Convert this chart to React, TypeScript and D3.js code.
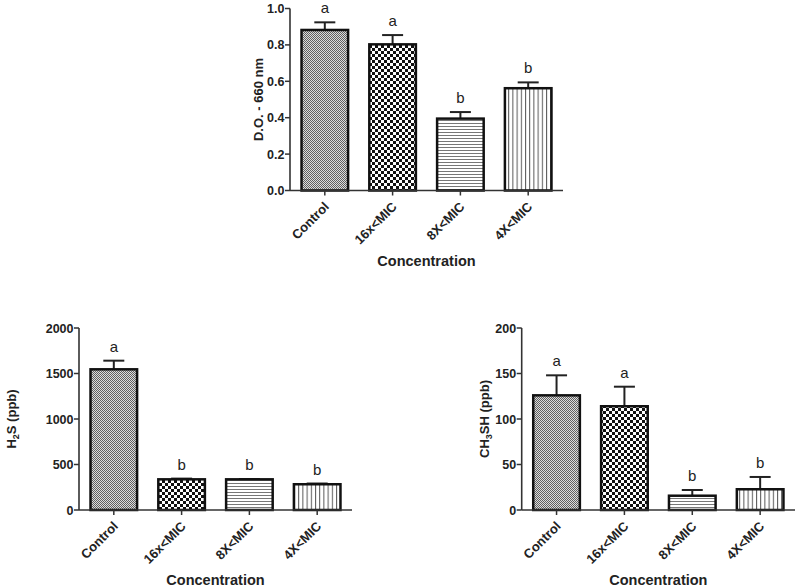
import React from "react";
import * as d3 from "d3";

// ---------- data ----------
const categories = ["Control", "16x<MIC", "8X<MIC", "4X<MIC"];

const doValues = [0.882, 0.803, 0.395, 0.562];
const doErrors = [0.042, 0.051, 0.036, 0.032];
const doLetters = ["a", "a", "b", "b"];
const doTicks = [0, 0.2, 0.4, 0.6, 0.8, 1.0];

const h2sValues = [1546, 337, 337, 283];
const h2sErrors = [95, 8, 4, 8];
const h2sLetters = ["a", "b", "b", "b"];
const h2sTicks = [0, 500, 1000, 1500, 2000];

const ch3shValues = [126, 114, 15.7, 22.8];
const ch3shErrors = [22, 21.5, 6.3, 13.5];
const ch3shLetters = ["a", "a", "b", "b"];
const ch3shTicks = [0, 50, 100, 150, 200];

const xTitle = "Concentration";

// ---------- layout ----------
type Panel = {
  id: string;
  values: number[];
  errors: number[];
  letters: string[];
  ticks: number[];
  fmt: (v: number) => string;
  ylabel: React.ReactNode;
  axisX: number;
  xEnd: number;
  y0: number;
  yTop: number;
  yLabelX: number;
};

const panels: Panel[] = [
  {
    id: "do",
    values: doValues,
    errors: doErrors,
    letters: doLetters,
    ticks: doTicks,
    fmt: d3.format(".1f"),
    ylabel: <tspan>D.O. - 660 nm</tspan>,
    axisX: 290,
    xEnd: 563,
    y0: 190.5,
    yTop: 8.5,
    yLabelX: 263,
  },
  {
    id: "h2s",
    values: h2sValues,
    errors: h2sErrors,
    letters: h2sLetters,
    ticks: h2sTicks,
    fmt: d3.format("d"),
    ylabel: (
      <>
        <tspan>H</tspan>
        <tspan fontSize="9" dy="3">2</tspan>
        <tspan dy="-3">S (ppb)</tspan>
      </>
    ),
    axisX: 79,
    xEnd: 352,
    y0: 510,
    yTop: 328,
    yLabelX: 16,
  },
  {
    id: "ch3sh",
    values: ch3shValues,
    errors: ch3shErrors,
    letters: ch3shLetters,
    ticks: ch3shTicks,
    fmt: d3.format("d"),
    ylabel: (
      <>
        <tspan>CH</tspan>
        <tspan fontSize="9" dy="3">3</tspan>
        <tspan dy="-3">SH (ppb)</tspan>
      </>
    ),
    axisX: 521.7,
    xEnd: 795,
    y0: 510,
    yTop: 328,
    yLabelX: 489,
  },
];

const patternIds = ["pControl", "p16x", "p8x", "p4x"];

const FONT = "'Liberation Sans', Arial, sans-serif";

function PanelChart({ p }: { p: Panel }) {
  const domainMax = p.ticks[p.ticks.length - 1];
  const y = d3.scaleLinear().domain([0, domainMax]).range([p.y0, p.yTop]);
  const x = d3
    .scaleBand<string>()
    .domain(categories)
    .range([p.axisX, p.xEnd])
    .paddingInner(0.313)
    .paddingOuter(0.17);
  const bw = x.bandwidth();
  const midX = (p.axisX + p.xEnd) / 2;
  const midY = (p.y0 + p.yTop) / 2;

  return (
    <g>
      {/* bars */}
      {categories.map((c, i) => {
        const bx = x(c)!;
        const top = y(p.values[i]);
        const errTop = y(p.values[i] + p.errors[i]);
        const cx = bx + bw / 2;
        return (
          <g key={c}>
            <line x1={cx} x2={cx} y1={top} y2={errTop} stroke="#222" strokeWidth={2} />
            <line x1={cx - 10.5} x2={cx + 10.5} y1={errTop} y2={errTop} stroke="#222" strokeWidth={2} />
            <rect
              x={bx}
              y={top}
              width={bw}
              height={p.y0 - top}
              fill={`url(#${patternIds[i]})`}
              stroke="#111"
              strokeWidth={2.5}
            />
            <text
              x={cx}
              y={errTop - 9}
              textAnchor="middle"
              fontFamily={FONT}
              fontSize={15}
              fill="#222"
            >
              {p.letters[i]}
            </text>
          </g>
        );
      })}
      {/* x axis */}
      <line x1={p.axisX} x2={p.xEnd} y1={p.y0} y2={p.y0} stroke="#333" strokeWidth={1.6} />
      {categories.map((c) => {
        const cx = x(c)! + bw / 2;
        return (
          <g key={c}>
            <line x1={cx} x2={cx} y1={p.y0} y2={p.y0 + 5} stroke="#333" strokeWidth={1.5} />
            <text
              transform={`translate(${cx + 5},${p.y0 + 17}) rotate(-45)`}
              textAnchor="end"
              fontFamily={FONT}
              fontWeight="bold"
              fontSize={13}
              fill="#222"
            >
              {c}
            </text>
          </g>
        );
      })}
      {/* y axis */}
      <line x1={p.axisX} x2={p.axisX} y1={p.yTop} y2={p.y0} stroke="#333" strokeWidth={1.6} />
      {p.ticks.map((t) => (
        <g key={t}>
          <line x1={p.axisX - 5} x2={p.axisX} y1={y(t)} y2={y(t)} stroke="#333" strokeWidth={1.5} />
          <text
            x={p.axisX - 5.5}
            y={y(t)}
            dy="0.36em"
            textAnchor="end"
            fontFamily={FONT}
            fontWeight="bold"
            fontSize={12.5}
            fill="#222"
          >
            {p.fmt(t)}
          </text>
        </g>
      ))}
      {/* titles */}
      <text
        transform={`translate(${p.yLabelX},${midY}) rotate(-90)`}
        textAnchor="middle"
        fontFamily={FONT}
        fontWeight="bold"
        fontSize={13}
        fill="#222"
      >
        {p.ylabel}
      </text>
      <text
        x={midX}
        y={p.y0 + 75}
        textAnchor="middle"
        fontFamily={FONT}
        fontWeight="bold"
        fontSize={14.5}
        fill="#222"
      >
        {xTitle}
      </text>
    </g>
  );
}

export default function App() {
  return (
    <svg
      width={798}
      height={587}
      style={{ position: "absolute", left: 0, top: 0, background: "#fff" }}
    >
      <defs>
        <pattern id="pControl" width={2} height={2} patternUnits="userSpaceOnUse">
          <rect width={2} height={2} fill="#dcdcdc" />
          <rect x={0} y={0} width={1} height={1} fill="#606060" />
          <rect x={1} y={1} width={1} height={1} fill="#606060" />
        </pattern>
        <pattern id="p16x" width={6} height={6} patternUnits="userSpaceOnUse">
          <rect width={6} height={6} fill="#fff" />
          <rect x={0} y={0} width={3} height={3} fill="#111" />
          <rect x={3} y={3} width={3} height={3} fill="#111" />
        </pattern>
        <pattern id="p8x" width={3} height={3} patternUnits="userSpaceOnUse">
          <rect width={3} height={3} fill="#fff" />
          <rect x={0} y={0} width={3} height={1} fill="#777" />
        </pattern>
        <pattern id="p4x" width={4.2} height={4} patternUnits="userSpaceOnUse">
          <rect width={4.2} height={4} fill="#fff" />
          <rect x={0} y={0} width={1} height={4} fill="#555" />
        </pattern>
      </defs>
      {panels.map((p) => (
        <PanelChart key={p.id} p={p} />
      ))}
    </svg>
  );
}
